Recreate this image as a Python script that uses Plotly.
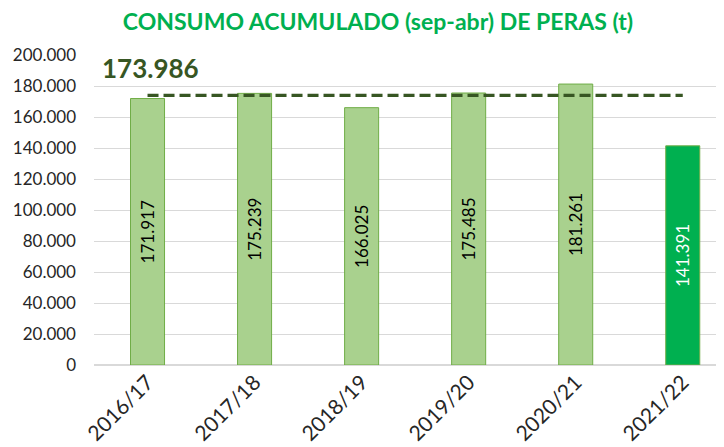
import plotly.graph_objects as go

campanas = ["2016/17", "2017/18", "2018/19", "2019/20", "2020/21", "2021/22"]
consumo = [171917, 175239, 166025, 175485, 181261, 141391]
media = 173986
y_ticks = [0, 20000, 40000, 60000, 80000, 100000, 120000, 140000, 160000, 180000, 200000]

LIGHT = "#A9D18E"
DARK = "#00B050"
OLIVE = "#375623"

bar_colors = [LIGHT] * (len(campanas) - 1) + [DARK]
text_colors = ["black"] * (len(campanas) - 1) + ["white"]
labels = [f"{v:,}".replace(",", ".") for v in consumo]

fig = go.Figure()
fig.add_trace(go.Bar(
    x=campanas, y=consumo, width=0.318,
    marker=dict(color=bar_colors, line=dict(color="#70AD47", width=1)),
    text=labels, textposition="inside", insidetextanchor="middle",
    textangle=-90, constraintext="none",
    textfont=dict(size=17, color=text_colors, family="Lato"),
    hoverinfo="skip",
))
fig.add_trace(go.Scatter(
    x=campanas, y=[media] * len(campanas), mode="lines",
    line=dict(color=OLIVE, width=3.3, dash="11px,5px"), hoverinfo="skip",
))

fig.add_annotation(
    x=0.0094, y=0.958, xref="paper", yref="paper", xanchor="left", yanchor="middle",
    text="<b>" + f"{media:,}".replace(",", ".") + "</b>", showarrow=False,
    font=dict(size=26, color=OLIVE, family="Lato"),
)

# the page body adds an 8 px offset, so margins are shifted to compensate
fig.update_layout(
    width=724, height=447,
    margin=dict(l=86, r=0, t=47, b=90),
    paper_bgcolor="white", plot_bgcolor="white",
    separators=",.",
    showlegend=False,
    font=dict(family="Lato", color="#262626"),
    title=dict(
        text="<b>CONSUMO ACUMULADO (sep-abr) DE PERAS (t)</b>",
        x=0.511, xanchor="center", y=0.968, yanchor="middle",
        font=dict(size=23, color=DARK, family="Lato"),
    ),
)
fig.update_xaxes(
    range=[-0.5, 5.46], tickangle=-45, tickfont=dict(size=21, color="#262626"),
    showgrid=False, showline=False, ticks="", automargin=False,
)
fig.update_yaxes(
    range=[0, 200000], tickvals=y_ticks, tickformat=",.0f",
    tickfont=dict(size=17, color="#262626"), ticklabelstandoff=17,
    gridcolor="#D9D9D9", gridwidth=1, zeroline=True, zerolinecolor="#D9D9D9",
    ticks="", showline=False, automargin=False,
)

fig.write_html("out.html")
